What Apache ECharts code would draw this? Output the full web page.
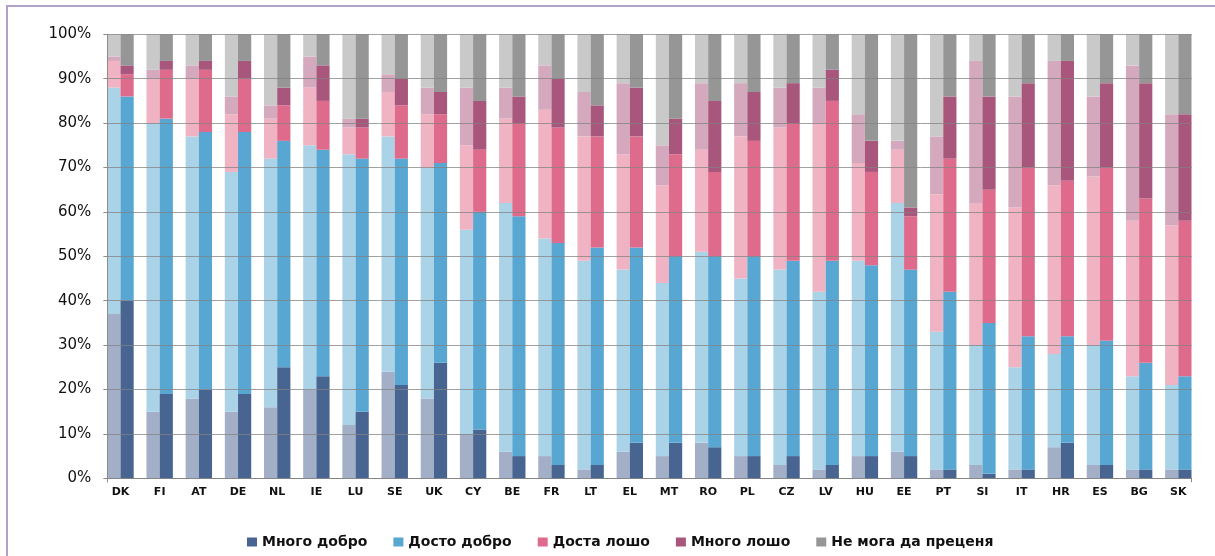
<!DOCTYPE html>
<html>
<head>
<meta charset="utf-8">
<script src="https://cdn.jsdelivr.net/npm/echarts@6/dist/echarts.min.js"></script>
<style>html,body{margin:0;padding:0;background:#fff;}#chart{width:1215px;height:556px;}</style>
</head>
<body>
<div id="chart"></div>
<script>
const countries = ['DK','FI','AT','DE','NL','IE','LU','SE','UK','CY','BE','FR','LT','EL','MT','RO','PL','CZ','LV','HU','EE','PT','SI','IT','HR','ES','BG','SK'];
const yTickLabels = ['0%','10%','20%','30%','40%','50%','60%','70%','80%','90%','100%'];
const legendNames = ['Много добро','Досто добро','Доста лошо','Много лошо','Не мога да преценя'];

// earlier survey (light bars)
const veryGoodPrev   = [37,15,18,15,16,20,12,24,18,10, 6, 5, 2, 6, 5, 8, 5, 3, 2, 5, 6, 2, 3, 2, 7, 3, 2, 2];
const fairlyGoodPrev = [51,65,59,54,56,55,61,53,52,46,56,49,47,41,39,43,40,44,40,44,56,31,27,23,21,27,21,19];
const fairlyBadPrev  = [ 6,10,13,13, 9,13, 6,10,12,19,19,29,28,26,22,23,32,32,38,22,12,31,32,36,38,38,35,36];
const veryBadPrev    = [ 1, 2, 3, 4, 3, 7, 2, 4, 6,13, 7,10,10,16, 9,15,12, 9, 8,11, 2,13,32,25,28,18,35,25];
const dontKnowPrev   = [ 5, 8, 7,14,16, 5,19, 9,12,12,12, 7,13,11,25,11,11,12,12,18,24,23, 6,14, 6,14, 7,18];

// later survey (dark bars)
const veryGoodCurr   = [40,19,20,19,25,23,15,21,26,11, 5, 3, 3, 8, 8, 7, 5, 5, 3, 5, 5, 2, 1, 2, 8, 3, 2, 2];
const fairlyGoodCurr = [46,62,58,59,51,51,57,51,45,49,54,50,49,44,42,43,45,44,46,43,42,40,34,30,24,28,24,21];
const fairlyBadCurr  = [ 5,11,14,12, 8,11, 7,12,11,14,21,26,25,25,23,19,26,31,36,21,12,30,30,38,35,39,37,35];
const veryBadCurr    = [ 2, 2, 2, 4, 4, 8, 2, 6, 5,11, 6,11, 7,11, 8,16,11, 9, 7, 7, 2,14,21,19,27,19,26,24];
const dontKnowCurr   = [ 7, 6, 6, 6,12, 7,19,10,13,15,14,10,16,12,19,15,13,11, 8,24,39,14,14,11, 6,11,11,18];

const prevSets = [veryGoodPrev, fairlyGoodPrev, fairlyBadPrev, veryBadPrev, dontKnowPrev];
const currSets = [veryGoodCurr, fairlyGoodCurr, fairlyBadCurr, veryBadCurr, dontKnowCurr];
const lightColors = ['#a2afc6','#abd3e7','#efb3c3','#d5a9bd','#c9c9c9'];
const darkColors  = ['#486592','#58a7d3','#de6b8b','#a8567c','#969696'];

const series = [];
for (let i = 0; i < 5; i++) {
  series.push({
    name: legendNames[i] + ' (1)', type: 'bar', stack: 'prev', xAxisIndex: 0, yAxisIndex: 0,
    barWidth: 13.2, barGap: '0%', data: prevSets[i],
    itemStyle: { color: lightColors[i] }, emphasis: { disabled: true }
  });
}
for (let i = 0; i < 5; i++) {
  series.push({
    name: legendNames[i], type: 'bar', stack: 'curr', xAxisIndex: 0, yAxisIndex: 0,
    barWidth: 13.2, barGap: '0%', data: currSets[i],
    itemStyle: { color: darkColors[i] }, emphasis: { disabled: true }
  });
}

const chart = echarts.init(document.getElementById('chart'));
chart.setOption({
  animation: false,
  backgroundColor: '#fff',
  graphic: [{
    type: 'rect', shape: { x: 7, y: 6, width: 1225, height: 570 },
    style: { fill: 'none', stroke: '#b3a2c7', lineWidth: 2 }, silent: true
  }],
  legend: {
    data: legendNames, left: 242, top: 530,
    itemWidth: 10, itemHeight: 9, itemGap: 26,
    icon: 'rect',
    textStyle: { fontFamily: 'DejaVu Sans', fontWeight: 'bold', fontSize: 14, color: '#111' }
  },
  grid: [
    { left: 100.9, right: 17.1, top: 34.3, bottom: 77.7 },
    { left: 107.3, right: 23.3, top: 34.3, bottom: 77.7 }
  ],
  xAxis: [
    { type: 'category', gridIndex: 0, data: countries,
      axisLine: { show: false }, axisTick: { show: false },
      axisLabel: { fontFamily: 'DejaVu Sans', fontWeight: 'bold', fontSize: 11, color: '#111', margin: 8, interval: 0 } },
    { type: 'value', gridIndex: 1, min: 0, max: 1, interval: 1,
      axisLine: { show: true, lineStyle: { color: '#8c8c8c' } },
      axisTick: { show: true, length: 4, lineStyle: { color: '#8c8c8c' } },
      axisLabel: { show: false }, splitLine: { show: false } }
  ],
  yAxis: [
    { type: 'value', gridIndex: 0, min: 0, max: 100, show: false },
    { type: 'value', gridIndex: 1, min: 0, max: 100, interval: 10, z: 5,
      axisLine: { show: true, lineStyle: { color: '#8c8c8c' } },
      axisTick: { show: true, length: 4, lineStyle: { color: '#8c8c8c' } },
      axisLabel: { formatter: function (v) { return yTickLabels[Math.round(v / 10)]; },
        fontFamily: 'DejaVu Sans', fontSize: 15, color: '#111', margin: 16 },
      splitLine: { show: true, lineStyle: { color: 'rgba(130,130,130,0.75)', width: 1 } } }
  ],
  series: series
});
</script>
</body>
</html>
